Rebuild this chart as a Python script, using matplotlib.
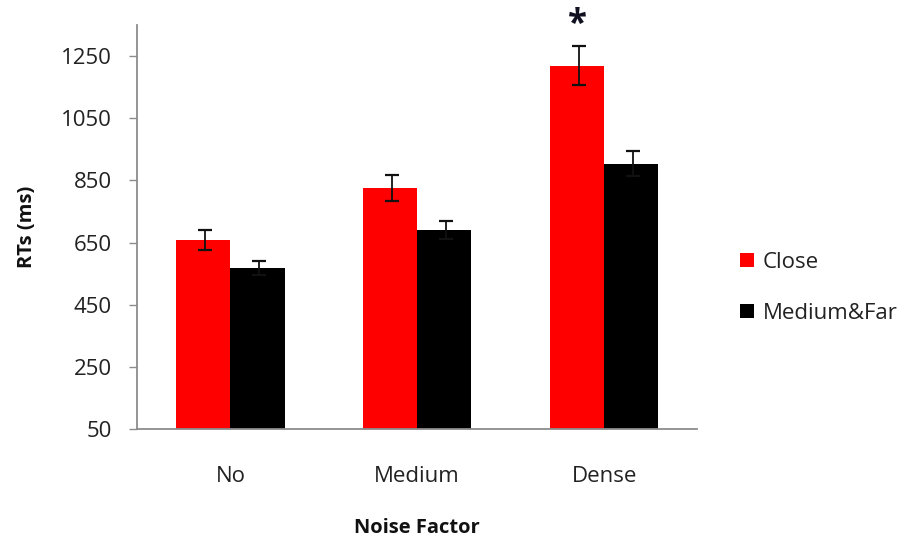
import matplotlib
matplotlib.use("Agg")
import matplotlib.pyplot as plt
import numpy as np
from matplotlib.patches import Patch

plt.rcParams['font.family'] = ['Open Sans', 'DejaVu Sans']

categories = ["No", "Medium", "Dense"]
close_rt = [659, 825, 1219]
close_err = [32, 42, 62]
far_rt = [568, 690, 903]
far_err = [23, 30, 40]
series_names = ["Close", "Medium&Far"]
y_ticks = [50, 250, 450, 650, 850, 1050, 1250]

fig = plt.figure(figsize=(9.12, 5.40), dpi=100)
ax = fig.add_axes([0.1502, 0.2056, 0.6146, 0.7481])

x = np.arange(len(categories))
w = 0.29
base = 50
axis_grey = "#8c8c8c"

ax.bar(x - w / 2, np.array(close_rt) - base, w, bottom=base, color="#ff0000",
       edgecolor="none")
ax.bar(x + w / 2, np.array(far_rt) - base, w, bottom=base, color="#000000",
       edgecolor="none")
ax.errorbar(x - w / 2 + 0.01, close_rt, yerr=close_err, fmt="none", ecolor="#111111",
            elinewidth=1.3, capsize=5, capthick=1.6)
ax.errorbar(x + w / 2 + 0.01, far_rt, yerr=far_err, fmt="none", ecolor="#111111",
            elinewidth=1.3, capsize=5, capthick=1.6)

# significance marker over the dense / close bar
ax.text(x[2] - w / 2, close_rt[2] + close_err[2] + 12, "*", ha="center", va="bottom",
        fontsize=25, fontweight="bold", color="#111122", clip_on=False)

ax.set_xlim(-0.5, 2.5)
ax.set_ylim(50, 1350)
ax.set_yticks(y_ticks)
ax.set_xticks(x)
ax.set_xticklabels(categories)
ax.tick_params(axis="y", length=6, width=1, color=axis_grey, labelsize=16,
               labelcolor="#222222", pad=12)
ax.tick_params(axis="x", length=0, labelsize=16, labelcolor="#222222", pad=27)

for side in ("top", "right"):
    ax.spines[side].set_visible(False)
for side in ("left", "bottom"):
    ax.spines[side].set_color(axis_grey)
    ax.spines[side].set_linewidth(1.3)

ax.set_ylabel("RTs (ms)", fontsize=14.5, fontweight="bold", color="#111111", labelpad=17)
ax.set_xlabel("Noise Factor", fontsize=14.5, fontweight="bold", color="#111111", labelpad=22)

handles = [Patch(facecolor="#ff0000", edgecolor="none"),
           Patch(facecolor="#000000", edgecolor="none")]
fig.legend(handles, series_names, loc="center left", bbox_to_anchor=(0.79, 0.467),
           frameon=False, fontsize=16, handlelength=0.6, handleheight=0.6,
           handletextpad=0.4, labelspacing=1.35, labelcolor="#222222")

fig.savefig("out.png", dpi=100, facecolor="white")
